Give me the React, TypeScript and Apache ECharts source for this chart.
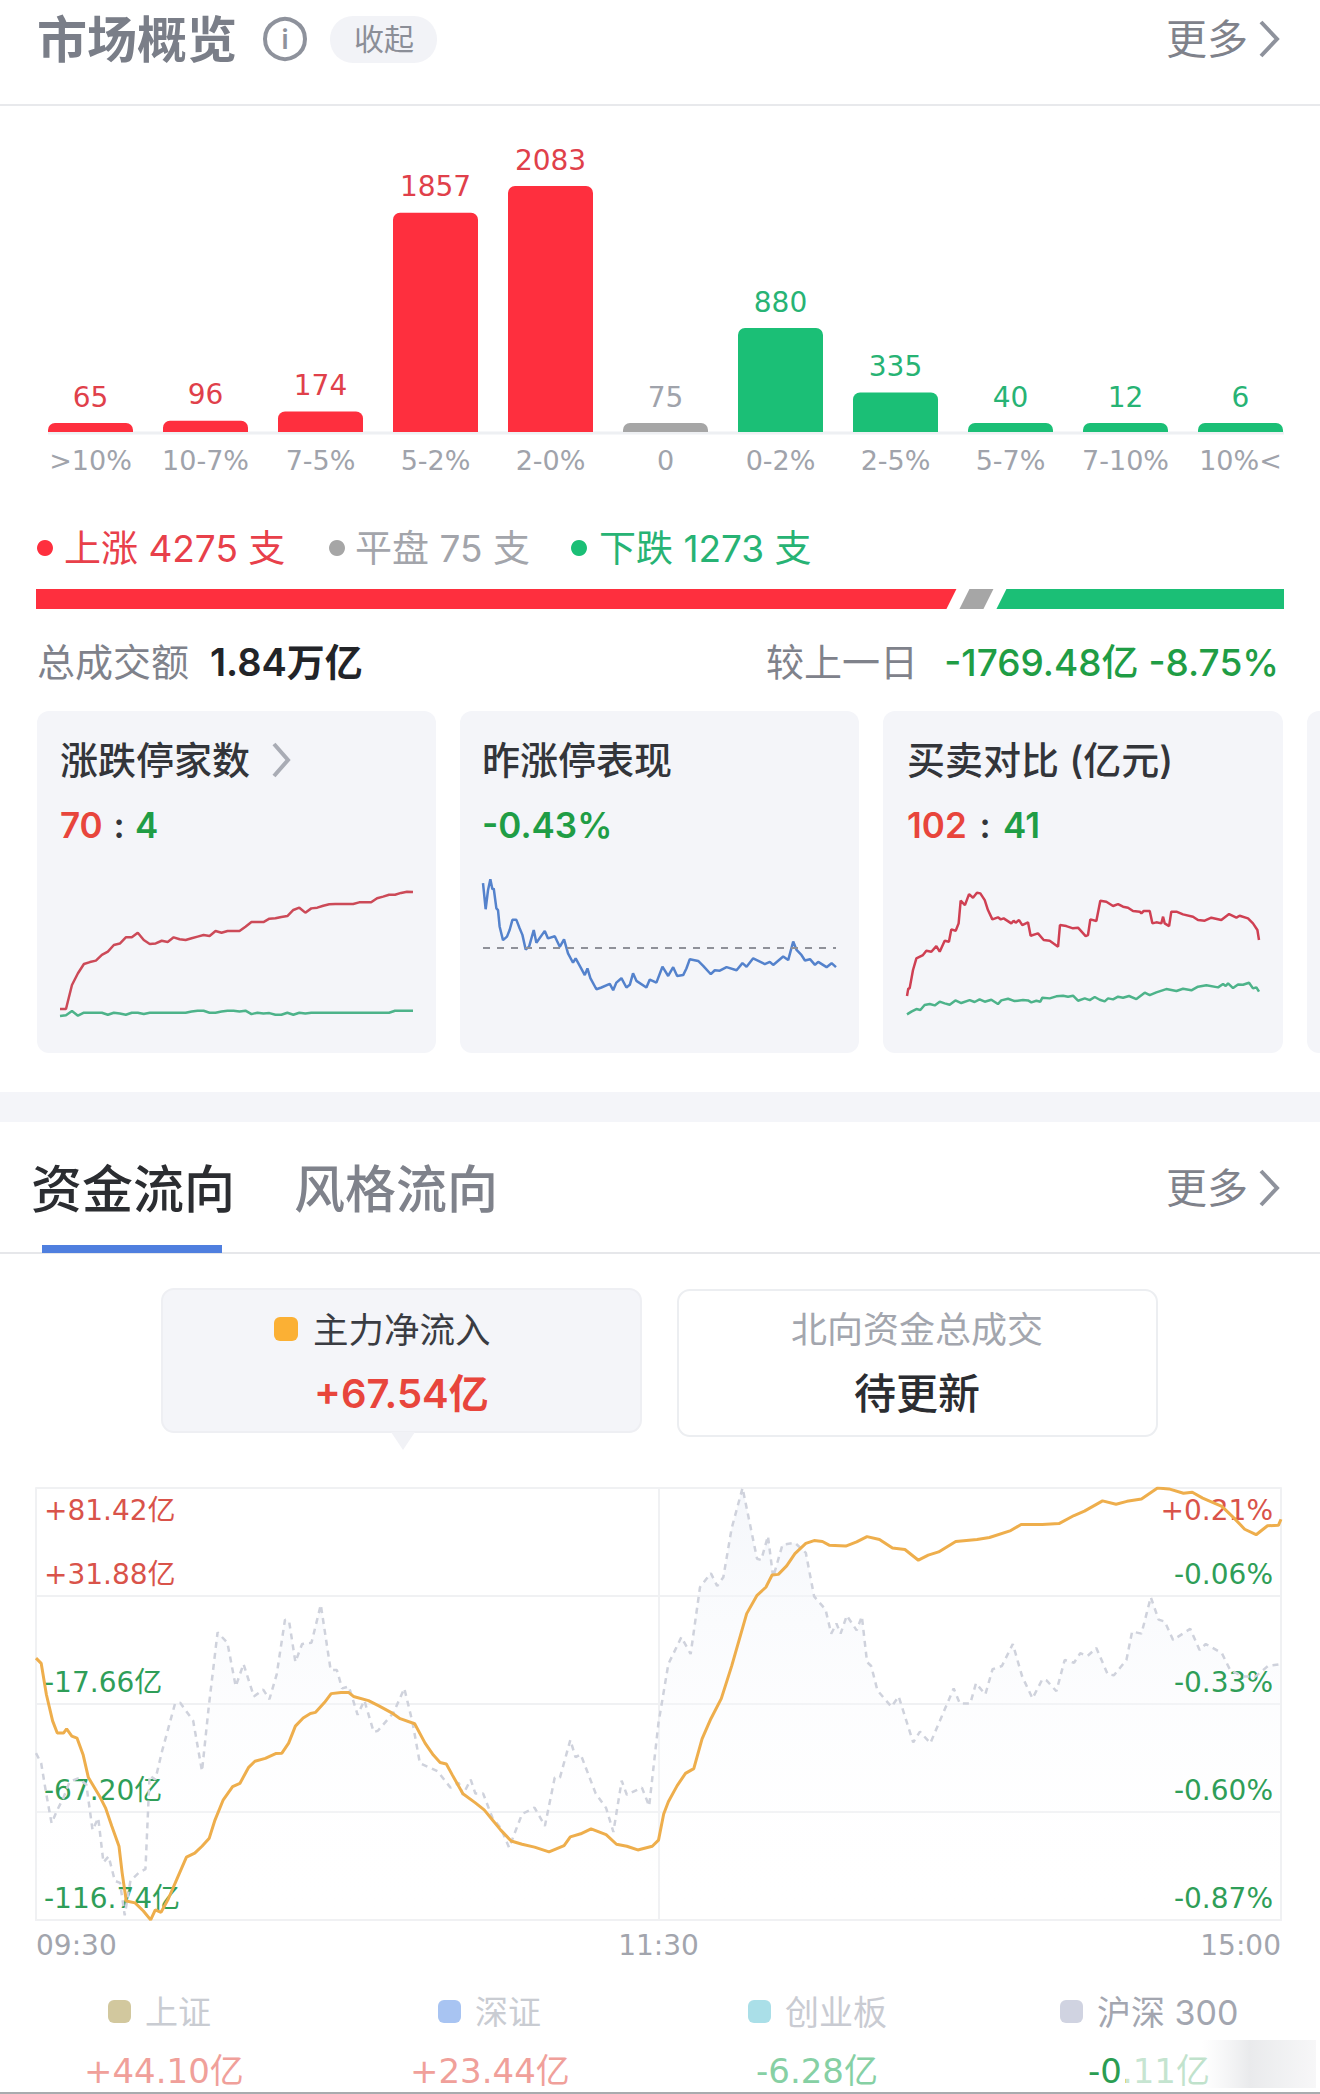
import { useEffect, useRef } from "react";
import * as echarts from "echarts";

const FONT = 'Inter, "Noto Sans CJK SC", sans-serif';
const NUM_FONT = '"DejaVu Sans", "Noto Sans CJK SC", sans-serif';
const RED = "#fe2f3e";
const GREEN = "#1bbf76";
const GRAY = "#a6a6a6";
const TEXT_RED = "#e8453c";
const TEXT_GREEN = "#1f9d45";

const barCategories = [">10%", "10-7%", "7-5%", "5-2%", "2-0%", "0", "0-2%", "2-5%", "5-7%", "7-10%", "10%<"];
const barValues = [65, 96, 174, 1857, 2083, 75, 880, 335, 40, 12, 6];
const breadth = [4275, 75, 1273];

// 涨跌停家数, even steps through the session
const limitUp = [
  4, 4, 17.5, 24.1, 29.3, 30.4, 31.2, 34.4, 36.3, 40, 40.8, 44.3, 44.3, 46.9, 42.8, 40.6, 40.9, 42.4, 41.7, 44.3,
  43.2, 42.8, 43.8, 44.7, 45.6, 45.1, 47.9, 46.9, 47.9, 47.9, 47.9, 50.3, 52.9, 52.9, 52.9, 54.8, 55, 55.8, 56.3, 59.7,
  61, 58.2, 60.6, 61, 62.1, 62.9, 63.1, 63.1, 63.1, 63.1, 64, 64, 64, 66.3, 67.2, 68.3, 68.3, 69.3, 70, 69.8,
];
const limitDown = [
  1.3, 1.7, 3.8, 1.5, 3, 3, 3, 3, 2, 3, 2.6, 2, 3, 3, 2.4, 3, 3, 3, 3, 3,
  3, 3, 3.6, 4, 4, 3, 3, 3.6, 4, 4, 3.6, 4, 2.3, 3, 2.6, 2.8, 2, 2, 3, 2,
  3, 2.6, 3, 3, 3, 3, 3, 3, 3, 3, 3, 3, 3, 3, 3, 3, 4, 4, 4, 4,
];

// 昨涨停表现: [minute, %]
const lastLimitUp = [
  [0, 1.46], [1.8, 0.87], [3.4, 1.3], [5, 1.55], [6.4, 1.32], [7.3, 1.34], [9.1, 0.89], [10.2, 0.85], [11.3, 0.48], [13.6, 0.17],
  [16.3, 0.25], [18.1, 0.4], [20, 0.63], [22.7, 0.63], [24.9, 0.44], [26.8, 0.29], [29, -0.04], [31.3, 0.02], [34.5, 0.4], [36.3, 0.11],
  [42, 0.38], [44.2, 0.21], [48.8, 0.26], [52.2, 0.02], [55.1, 0.19], [57.8, -0.13], [61.2, -0.34], [63, -0.24], [65.8, -0.41], [69.2, -0.62],
  [71, -0.47], [73, -0.69], [77.1, -0.94], [80.5, -0.9], [86.2, -0.82], [88.5, -0.96], [90.7, -0.79], [94.1, -0.69], [97.5, -0.9], [99.8, -0.84],
  [102, -0.58], [104.3, -0.75], [111.1, -0.9], [113.4, -0.72], [117.9, -0.79], [122, -0.43], [125.9, -0.64], [129.3, -0.44], [132, -0.64], [136.1, -0.62],
  [138.3, -0.47], [140.6, -0.26], [146.3, -0.3], [149.7, -0.41], [154.9, -0.6], [157.6, -0.51], [161, -0.52], [165.6, -0.44], [172.4, -0.51], [176.4, -0.35],
  [179.2, -0.43], [183.7, -0.24], [191.6, -0.37], [195, -0.32], [197.3, -0.39], [204.1, -0.2], [207.5, -0.28], [210.9, 0.14], [213.2, -0.05], [216.6, -0.17],
  [218.9, -0.29], [222.3, -0.26], [225.7, -0.39], [227.9, -0.32], [233.6, -0.44], [237, -0.35], [240, -0.44],
];

// 买卖对比 (亿元): [minute, 亿]
const buySide = [
  [0, 35.9], [0.9, 44.9], [1.8, 44.9], [4.1, 66.6], [6.4, 80.3], [10.9, 84.3], [13.2, 89.4], [16.6, 88.2], [20, 94.9], [22.3, 88.2],
  [25.7, 101.2], [28.6, 100], [30.2, 114.6], [33.2, 113], [35.2, 121.7], [36.6, 148.5], [39.5, 143.3], [42.3, 156.3], [45, 152], [47.7, 157.9],
  [50, 157.1], [53, 149.2], [55.2, 137.4], [58.2, 126.4], [62, 128.8], [63.9, 126.4], [65.9, 127.6], [71.1, 121.7], [72.7, 124.8], [74.1, 122.5],
  [76.4, 125.6], [78.6, 119.7], [82.5, 122.9], [84.3, 107.1], [89.3, 109.9], [93.2, 102], [97.3, 101.2], [103, 94.1], [104.3, 119.7], [108.6, 118.5],
  [113.2, 115.8], [116.6, 116.6], [121.8, 106.7], [123.4, 107.9], [125, 126.4], [129.1, 124.4], [131.8, 148.5], [135.9, 147.3], [140.5, 142.2], [143.9, 144.5],
  [147.3, 141.4], [150.7, 140.2], [154.1, 136.3], [158.7, 135.5], [159.8, 133.5], [161.4, 136.3], [165.5, 136.3], [167.3, 121.7], [170, 122.9], [173.4, 121.7],
  [174.6, 129.6], [175.7, 121.7], [178.7, 118.5], [180.2, 135.5], [183.7, 135.5], [188.2, 132.3], [195, 129.6], [198.4, 125.6], [203, 124.8], [207.5, 128.4],
  [214.3, 125.6], [219.6, 132.7], [224.6, 128.4], [226.8, 130.7], [232.5, 127.6], [235.9, 121.7], [238.9, 113.8], [240, 102],
];
const sellSide = [
  [0, 14.2], [3, 17.4], [6.4, 20.5], [9.1, 19.3], [12, 25.2], [15.5, 26.4], [18.9, 24.8], [22.3, 29.2], [25.7, 27.2], [29.1, 25.6],
  [33, 30.7], [37, 27.6], [42.7, 31.1], [46.1, 28.8], [49.5, 31.9], [53, 29.2], [57.5, 31.5], [62, 26.4], [64.3, 30.7], [68.9, 32.7],
  [73.4, 29.9], [79.1, 31.1], [82.5, 30.7], [84.8, 28.4], [88.2, 30.3], [90.9, 29.2], [92.3, 33.9], [97.3, 33.1], [101.8, 35.5], [106.4, 36.3],
  [109.8, 35.1], [113.2, 36.3], [116.6, 30.3], [121.2, 33.1], [124.6, 31.1], [128, 34.7], [131.4, 31.5], [134.8, 29.6], [137.1, 33.1], [140.5, 31.9],
  [143.9, 35.1], [147.3, 33.9], [151.4, 35.9], [156.4, 32.3], [162.1, 39.8], [165.5, 37], [170, 40.2], [176.8, 44.1], [183.7, 41.8], [188.2, 44.5],
  [193.9, 42.6], [198.4, 46.9], [204.1, 48.5], [212.1, 46.1], [215.5, 50], [217.3, 47.7], [218.9, 50.8], [222.3, 45.3], [225.7, 49.6], [229.1, 49.2],
  [233.2, 51.6], [235.9, 44.9], [238.2, 46.1], [240, 41],
];

// 主力净流入: [minute, 亿]
const mainFlow = [
  [0, 3.4], [1, 1], [2, -13.3], [3.2, -25.4], [4.1, -31], [5.3, -31], [5.9, -29.1], [6.9, -32.4], [7.9, -33.3], [9.1, -41.1],
  [10.1, -51.4], [12.2, -59.7], [13.4, -65.3], [14.6, -73.6], [16, -82.9], [16.6, -95], [17.4, -108], [19.1, -108.9], [20.7, -112.6], [22.1, -116.7],
  [23, -112.1], [24.1, -113.2], [25.5, -107.1], [27.2, -97.8], [29, -87.9], [30.6, -86.1], [32, -82.9], [33.4, -79.2], [34.5, -70.9], [36.1, -61.6],
  [37.9, -55.6], [39.3, -54.1], [41, -46.7], [42.2, -43.9], [44.2, -42.6], [46.2, -40.4], [47.4, -40.2], [48.7, -35.6], [50, -27.8], [51.5, -24.1],
  [52.9, -22], [53.9, -21.5], [55.6, -17], [56.9, -12.9], [58.8, -12.4], [60.3, -12.4], [61.2, -14.2], [64.1, -16.1], [66.1, -18.5], [68.5, -21.6],
  [70.2, -24.4], [73, -26.7], [75, -35.6], [76.6, -41.1], [77.9, -44.5], [79.1, -45.2], [80.3, -50.4], [82.3, -58.8], [84.7, -63], [86.4, -66.2],
  [88, -70.9], [89.6, -75.5], [91.6, -80.5], [93.7, -82], [96.1, -83.3], [98.9, -85.5], [101.8, -82.6], [103, -78.6], [105, -77.2], [107, -74.9],
  [109.9, -77.6], [111.9, -82], [113.9, -82.9], [116, -84.6], [118.8, -82.9], [120, -80.1], [121, -68.1], [121.9, -62.5], [123.6, -55.1], [125.2, -49.5],
  [126.8, -47.3], [128.4, -33.7], [130.1, -24.4], [132.1, -15.2], [134.1, -0.3], [137, 23.8], [139, 32.2], [140.7, 35.9], [141.9, 41.5], [143.1, 41.8],
  [144.7, 45.7], [146.3, 51.3], [148.4, 56], [150, 57.3], [151.6, 56.9], [152.9, 55.2], [156.1, 54.8], [158.2, 56.7], [160.2, 59.1], [162.6, 57.8],
  [165.1, 53.9], [167.5, 53.2], [170.1, 48.3], [172, 50.6], [174, 52.1], [177.3, 56.9], [181.4, 57.8], [183.8, 58.7], [187.9, 61.9], [189.9, 64.7],
  [194, 64.7], [197.2, 65.1], [200.1, 68.8], [202.1, 70.8], [205.6, 75.5], [208.2, 74], [210.3, 75.3], [213.1, 76.4], [216.2, 81.4], [218.4, 81],
  [221.2, 79], [222.9, 79.5], [224.9, 76.8], [228.6, 73], [231, 67.5], [233, 62.5], [235.2, 60], [237.4, 64.1], [239.5, 64.3], [240, 67.1],
];

// 大盘涨跌幅: [minute, %]
const indexPct = [
  [0, -0.453], [1, -0.478], [1.9, -0.549], [3, -0.628], [4.1, -0.595], [5.3, -0.564], [6.5, -0.524], [8.1, -0.516], [9.7, -0.531], [10.9, -0.645],
  [12, -0.615], [13, -0.726], [14, -0.711], [15.2, -0.772], [16.2, -0.777], [17.1, -0.858], [18.2, -0.772], [19.9, -0.751], [21.1, -0.743], [21.9, -0.509],
  [23, -0.519], [24.3, -0.448], [26.8, -0.329], [27.8, -0.327], [30.3, -0.372], [32, -0.498], [33.3, -0.337], [35, -0.151], [36.9, -0.177], [38.5, -0.286],
  [40, -0.23], [42, -0.311], [43.8, -0.294], [45, -0.318], [46.4, -0.256], [48, -0.119], [48.8, -0.124], [50, -0.225], [51.3, -0.18], [53.1, -0.177],
  [54.9, -0.082], [56.8, -0.245], [58, -0.245], [59, -0.291], [60.3, -0.286], [62, -0.357], [63.3, -0.321], [65.1, -0.4], [65.9, -0.397], [68.9, -0.352],
  [71, -0.291], [72.6, -0.377], [74, -0.478], [77.4, -0.498], [79.9, -0.539], [81.5, -0.527], [82.3, -0.557], [83.8, -0.519], [84.7, -0.554], [86.2, -0.554],
  [88, -0.615], [89.6, -0.64], [91.2, -0.689], [93.7, -0.605], [96.1, -0.589], [98.1, -0.635], [100, -0.514], [101, -0.514], [103, -0.42], [104, -0.463],
  [105, -0.456], [107.9, -0.554], [109.9, -0.59], [111.3, -0.65], [112.9, -0.522], [113.9, -0.557], [116.8, -0.539], [118.2, -0.585], [120, -0.377], [121.9, -0.23],
  [124.4, -0.163], [126.2, -0.205], [128, -0.038], [130.1, -0.003], [131.3, -0.035], [132.5, -0.013], [134.1, 0.109], [136.2, 0.21], [139, 0.033], [139.8, 0.03],
  [141.1, 0.09], [142.1, -0.013], [143.9, 0.068], [146.3, 0.073], [148.4, 0.048], [150, -0.061], [152.2, -0.094], [153.3, -0.154], [154.3, -0.129], [155.1, -0.154],
  [156.3, -0.109], [158.2, -0.146], [159.2, -0.111], [160.2, -0.225], [161, -0.235], [162.2, -0.296], [164.9, -0.337], [166.3, -0.311], [169.1, -0.426], [170.4, -0.399],
  [172.4, -0.428], [176.9, -0.291], [178.1, -0.329], [180.1, -0.329], [181.2, -0.278], [183, -0.306], [184.4, -0.243], [186.2, -0.235], [188.3, -0.18], [190.1, -0.261],
  [192.1, -0.316], [194, -0.268], [194.8, -0.271], [196.7, -0.298], [198.3, -0.22], [200.1, -0.227], [201.3, -0.203], [202.7, -0.21], [204.4, -0.19], [206.6, -0.256],
  [207.8, -0.258], [210.2, -0.22], [211.3, -0.149], [213.1, -0.154], [214.9, -0.063], [216.4, -0.119], [217.6, -0.124], [219.2, -0.17], [222.5, -0.142], [224.3, -0.195],
  [225.5, -0.18], [228.6, -0.203], [230.2, -0.245], [232.6, -0.261], [235.1, -0.261], [237.5, -0.235], [240, -0.23],
];

// bottom to top, one label per grid line
const moneyTicks = ["-116.74亿", "-67.20亿", "-17.66亿", "+31.88亿", "+81.42亿"];
const pctTicks = ["-0.87%", "-0.60%", "-0.33%", "-0.06%", "+0.21%"];
const timeLabels = ["09:30", "11:30", "15:00"];

const text = (
  x: number,
  y: number,
  str: string,
  size: number,
  fill: string,
  weight: any = 400,
  align = "left",
  family = FONT,
) => ({
  type: "text",
  style: {
    x,
    y,
    text: str,
    fill,
    fontSize: size,
    fontWeight: weight,
    fontFamily: family,
    align,
    textAlign: align,
    verticalAlign: "middle",
    textVerticalAlign: "middle",
  },
});

const rect = (x: number, y: number, width: number, height: number, fill: string, r = 0, stroke?: string) => ({
  type: "rect",
  shape: { x, y, width, height, r },
  style: { fill, stroke, lineWidth: stroke ? 2 : 0 },
});

const chevron = (x: number, y: number, w: number, h: number, stroke: string, lineWidth = 4) => ({
  type: "polyline",
  shape: { points: [[x, y - h], [x + w, y], [x, y + h]] },
  style: { stroke, lineWidth, fill: "none" },
});

function buildGraphics() {
  const cardFill = "#f4f5f9";
  return [
    // section one header
    text(37, 40, "市场概览", 50, "#7a7e88", 700),
    { type: "circle", shape: { cx: 285, cy: 39, r: 20 }, style: { fill: "none", stroke: "#8e929c", lineWidth: 4 } },
    text(285, 39, "i", 27, "#8e929c", 600, "center"),
    rect(330, 16, 107, 47, "#f2f3f7", 23),
    text(384, 39, "收起", 30, "#8b8e97", 400, "center"),
    text(1166, 39, "更多", 41, "#7f828b"),
    chevron(1261, 39, 16, 17, "#8e929c"),
    { type: "line", shape: { x1: 0, y1: 105, x2: 1320, y2: 105 }, style: { stroke: "#e8e9ec", lineWidth: 2 } },
    { type: "line", shape: { x1: 48, y1: 433, x2: 1284, y2: 433 }, style: { stroke: "#eef0f3", lineWidth: 3 } },

    // 涨跌 legend
    { type: "circle", shape: { cx: 45, cy: 548, r: 8 }, style: { fill: RED } },
    text(64, 548, "上涨 4275 支", 37, "#e8404a"),
    { type: "circle", shape: { cx: 337, cy: 548, r: 8 }, style: { fill: GRAY } },
    text(355, 548, "平盘 75 支", 37, "#a3a5ab"),
    { type: "circle", shape: { cx: 579, cy: 548, r: 8 }, style: { fill: GREEN } },
    text(599, 548, "下跌 1273 支", 37, "#27b374"),

    text(37, 662, "总成交额", 38, "#7f828b"),
    text(210, 662, "1.84万亿", 38, "#222428", 600),
    text(766, 662, "较上一日", 38, "#7f828b"),
    text(1279, 662, "-1769.48亿 -8.75%", 37, TEXT_GREEN, 500, "right"),

    // small cards
    rect(37, 711, 399, 342, cardFill, 12),
    rect(460, 711, 399, 342, cardFill, 12),
    rect(883, 711, 400, 342, cardFill, 12),
    rect(1307, 711, 30, 342, cardFill, 12),
    text(60, 760, "涨跌停家数", 38, "#33353a", 500),
    chevron(274, 760, 14, 16, "#a9acb5"),
    text(60, 825, "70", 35, TEXT_RED, 600),
    text(119, 825, ":", 35, "#33353a", 600, "center"),
    text(135, 825, "4", 35, TEXT_GREEN, 600),
    text(482, 760, "昨涨停表现", 38, "#33353a", 500),
    text(482, 825, "-0.43%", 35, TEXT_GREEN, 600),
    text(907, 760, "买卖对比 (亿元)", 38, "#33353a", 500),
    text(907, 825, "102", 35, TEXT_RED, 600),
    text(985, 825, ":", 35, "#33353a", 600, "center"),
    text(1003, 825, "41", 35, TEXT_GREEN, 600),

    // divider band and section two header
    rect(0, 1092, 1320, 30, cardFill),
    text(31, 1189, "资金流向", 51, "#2b2d31", 500),
    text(294, 1189, "风格流向", 51, "#7f828b", 500),
    text(1166, 1188, "更多", 41, "#7f828b"),
    chevron(1261, 1188, 16, 17, "#8e929c"),
    { type: "line", shape: { x1: 0, y1: 1253, x2: 1320, y2: 1253 }, style: { stroke: "#e6e7ea", lineWidth: 2 } },
    rect(42, 1245, 180, 8, "#4f7fdf"),

    // flow tabs
    rect(162, 1289, 479, 143, cardFill, 12, "#eeeff3"),
    { type: "polygon", shape: { points: [[391, 1432], [415, 1432], [403, 1450]] }, style: { fill: "#f1f2f6" } },
    rect(274, 1317, 24, 24, "#fbb034", 6),
    text(313, 1330, "主力净流入", 35.5, "#3a3c42"),
    text(314, 1393, "+67.54亿", 40, TEXT_RED, 600),
    rect(678, 1290, 479, 146, "#ffffff", 12, "#eceef1"),
    text(917, 1330, "北向资金总成交", 36, "#a3a6ae", 400, "center"),
    text(917, 1393, "待更新", 42, "#2b2d31", 500, "center"),

    // bottom legend
    rect(108, 2000, 23, 23, "#d2c89e", 6),
    text(145, 2012, "上证", 33, "#c9ccd2"),
    rect(438, 2000, 23, 23, "#a8c4f2", 6),
    text(475, 2012, "深证", 33, "#c9ccd2"),
    rect(748, 2000, 23, 23, "#aadfe8", 6),
    text(785, 2012, "创业板", 34, "#c9cbd2"),
    rect(1060, 2000, 23, 23, "#d0d3e1", 6),
    text(1097, 2012, "沪深 300", 34, "#a3a6b0"),
    text(84, 2071, "+44.10亿", 34, "#f0a09a", 400, "left", NUM_FONT),
    text(410, 2071, "+23.44亿", 34, "#f0a09a", 400, "left", NUM_FONT),
    text(756, 2071, "-6.28亿", 34, "#86d0a4", 400, "left", NUM_FONT),
    text(1088, 2071, "-0.11亿", 34, "#2a9d52", 400, "left", NUM_FONT),
    {
      type: "rect",
      shape: { x: 1126, y: 2040, width: 190, height: 48 },
      style: {
        fill: {
          type: "linear",
          x: 0,
          y: 0,
          x2: 1,
          y2: 0,
          colorStops: [
            { offset: 0, color: "rgba(255,255,255,0.75)" },
            { offset: 0.4, color: "rgba(255,255,255,0.7)" },
            { offset: 0.65, color: "rgba(232,233,235,0.95)" },
            { offset: 1, color: "rgba(246,246,247,0.9)" },
          ],
        },
      },
    },
    rect(0, 2092, 1320, 2, "#a9abae"),
  ];
}

// red, gray and green strips with slanted joins
function renderBreadth(params: any, api: any) {
  const { x, y, width, height } = params.coordSys;
  const grayWidth = 24;
  const gap = 13;
  const slant = 5;
  const spare = 60; // room kept for the gray strip and the two gaps
  const up = breadth[0];
  const down = breadth[2];
  const unit = (width - spare) / (up + down);
  const redEnd = x + up * unit;
  const greenStart = redEnd + gap * 2 + grayWidth;
  const top = y;
  const bottom = y + height;
  const shapes = [
    [[x, top], [redEnd + slant, top], [redEnd - slant, bottom], [x, bottom]],
    [[redEnd + gap + slant, top], [redEnd + gap + grayWidth + slant, top], [redEnd + gap + grayWidth - slant, bottom], [redEnd + gap - slant, bottom]],
    [[greenStart + slant, top], [x + width, top], [x + width, bottom], [greenStart - slant, bottom]],
  ];
  return {
    type: "polygon",
    shape: { points: shapes[params.dataIndex] },
    style: { fill: api.value(1) === up ? RED : api.value(1) === down ? GREEN : GRAY },
  };
}

const hiddenX = (gridIndex: number, max: number) => ({
  type: "value",
  gridIndex,
  min: 0,
  max,
  show: false,
});
const hiddenY = (gridIndex: number, min: number, max: number) => ({
  type: "value",
  gridIndex,
  min,
  max,
  show: false,
});

const spark = (xAxisIndex: number, yAxisIndex: number, data: any[], color: string, extra: any = {}) => ({
  type: "line",
  xAxisIndex,
  yAxisIndex,
  data,
  symbol: "none",
  silent: true,
  lineStyle: { color, width: 2.5 },
  ...extra,
});

const frame = { lineStyle: { color: "#f0f1f3", width: 2 } };
const tickLabel = (labels: string[]) => ({
  show: true,
  inside: true,
  margin: 8,
  fontSize: 28,
  fontFamily: NUM_FONT,
  lineHeight: 44,
  verticalAlign: "bottom",
  verticalAlignMaxLabel: "top",
  color: (v: any) => (String(labels[Number(v)]).startsWith("+") ? "#d9534a" : "#2f9e58"),
  formatter: (v: number) => labels[v],
});

function buildOption() {
  const indexed = (values: number[]) => values.map((v, i) => [i, v]);
  return {
    animation: false,
    backgroundColor: "#ffffff",
    textStyle: { fontFamily: FONT },
    graphic: { elements: buildGraphics() },
    grid: [
      { left: 33, width: 1265, top: 186, height: 246 },
      { left: 60, width: 353, top: 873.9, height: 142.2 },
      { left: 60, width: 353, top: 998.7, height: 20 },
      { left: 483, width: 353, top: 859.3, height: 154.7 },
      { left: 907, width: 352, top: 874, height: 152.4 },
      { left: 36, width: 1245, top: 1488, height: 432 },
      { left: 36, width: 1248, top: 589, height: 20 },
    ],
    xAxis: [
      {
        type: "category",
        gridIndex: 0,
        data: barCategories,
        axisLine: { show: false },
        axisTick: { show: false },
        axisLabel: { color: "#a0a3ab", fontSize: 27, fontFamily: NUM_FONT, margin: 15, interval: 0 },
      },
      hiddenX(1, 59),
      hiddenX(2, 59),
      hiddenX(3, 240),
      hiddenX(4, 240),
      {
        type: "value",
        gridIndex: 5,
        min: 0,
        max: 240,
        interval: 120,
        axisLine: { show: true, ...frame },
        axisTick: { show: false },
        splitLine: { show: true, ...frame },
        axisLabel: {
          color: "#a2a5ad",
          fontSize: 28,
          fontFamily: NUM_FONT,
          margin: 11,
          alignMinLabel: "left",
          alignMaxLabel: "right",
          formatter: (v: number) => timeLabels[v / 120],
        },
      },
      hiddenX(6, 5623),
    ],
    yAxis: [
      hiddenY(0, 0, 2083),
      hiddenY(1, 0, 80),
      hiddenY(2, 0, 10),
      hiddenY(3, -1.5, 2),
      hiddenY(4, 0, 180),
      {
        type: "value",
        gridIndex: 5,
        min: 0,
        max: 4,
        interval: 1,
        position: "left",
        z: 3,
        axisLine: { show: true, ...frame },
        axisTick: { show: false },
        splitLine: { show: true, ...frame },
        axisLabel: tickLabel(moneyTicks),
      },
      {
        type: "value",
        gridIndex: 5,
        min: 0,
        max: 4,
        interval: 1,
        position: "right",
        z: 3,
        axisLine: { show: true, ...frame },
        axisTick: { show: false },
        splitLine: { show: false },
        axisLabel: tickLabel(pctTicks),
      },
      hiddenY(5, -116.74, 81.42),
      hiddenY(5, -0.87, 0.21),
      hiddenY(6, 0, 1),
    ],
    series: [
      {
        type: "bar",
        xAxisIndex: 0,
        yAxisIndex: 0,
        barWidth: 85,
        barMinHeight: 9,
        data: barValues.map((value, i) => ({
          value,
          itemStyle: { color: i < 5 ? RED : i === 5 ? GRAY : GREEN, borderRadius: [7, 7, 0, 0] },
          label: { color: i < 5 ? "#e0404a" : i === 5 ? "#a0a3ab" : "#27b374" },
        })),
        label: { show: true, position: "top", distance: 12, fontSize: 28, fontFamily: NUM_FONT },
      },
      spark(1, 1, indexed(limitUp), "#cc4a58"),
      spark(2, 2, indexed(limitDown), "#4db38a"),
      spark(3, 3, lastLimitUp, "#5482cc", {
        markLine: {
          silent: true,
          symbol: "none",
          label: { show: false },
          lineStyle: { type: [7, 7], color: "#8f9199", width: 2 },
          data: [{ yAxis: 0 }],
        },
      }),
      spark(4, 4, buySide, "#cf4053"),
      spark(4, 4, sellSide, "#4db38a"),
      {
        type: "line",
        xAxisIndex: 5,
        yAxisIndex: 8,
        data: indexPct,
        symbol: "none",
        silent: true,
        lineStyle: { color: "#cfd2dc", width: 2.5, type: [6, 5] },
        areaStyle: {
          origin: "start",
          color: {
            type: "linear",
            x: 0,
            y: 0,
            x2: 0,
            y2: 1,
            colorStops: [
              { offset: 0, color: "rgba(240,243,249,1)" },
              { offset: 1, color: "rgba(255,255,255,0)" },
            ],
          },
        },
      },
      {
        type: "line",
        xAxisIndex: 5,
        yAxisIndex: 7,
        data: mainFlow,
        symbol: "none",
        silent: true,
        z: 4,
        lineStyle: { color: "#eeae4c", width: 3 },
      },
      {
        type: "custom",
        xAxisIndex: 6,
        yAxisIndex: 9,
        silent: true,
        data: breadth.map((v, i) => [i, v]),
        encode: { x: 0, y: 1 },
        renderItem: renderBreadth,
      },
    ],
  };
}

export default function App() {
  const ref = useRef<HTMLDivElement | null>(null);

  useEffect(() => {
    document.body.style.margin = "0";
    if (!ref.current) return;
    const chart = echarts.init(ref.current, undefined, { renderer: "svg" });
    chart.setOption(buildOption() as any);
    return () => chart.dispose();
  }, []);

  return <div ref={ref} style={{ width: 1320, height: 2094 }} />;
}
